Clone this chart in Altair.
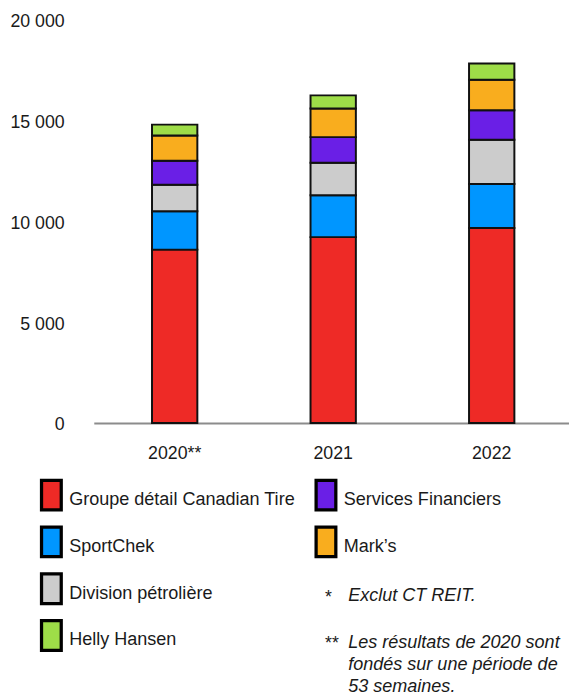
import altair as alt
import pandas as pd

years = ["2020**", "2021", "2022"]
segments = ["Groupe détail Canadian Tire", "SportChek", "Division pétrolière",
            "Services Financiers", "Mark’s", "Helly Hansen"]
groupe = [8600, 9220, 9670]
sportchek = [1900, 2080, 2180]
petroliere = [1320, 1610, 2200]
services = [1190, 1270, 1460]
marks = [1250, 1420, 1510]
helly = [540, 650, 810]
colors = ["#EE2A26", "#0096FF", "#CCCCCC", "#6A1FE6", "#F9AD1E", "#9EDD48"]
y_ticks = [0, 5000, 10000, 15000, 20000]

legend_col1 = ["Groupe détail Canadian Tire", "SportChek", "Division pétrolière", "Helly Hansen"]
legend_col2 = ["Services Financiers", "Mark’s"]
note_marks = ["*", "**"]
note_texts = ["Exclut CT REIT.", "Les résultats de 2020 sont\nfondés sur une période de\n53 semaines."]

FONT = "Liberation Sans, Arial, Helvetica, sans-serif"

series_vals = [groupe, sportchek, petroliere, services, marks, helly]
rows = []
for si, (name, vals) in enumerate(zip(segments, series_vals)):
    for y, v in zip(years, vals):
        rows.append({"year": y, "series": name, "value": v, "idx": si})
df = pd.DataFrame(rows)

leg_rows = []
for r, n in enumerate(legend_col1):
    leg_rows.append({"series": n, "col": 0, "row": r})
for r, n in enumerate(legend_col2):
    leg_rows.append({"series": n, "col": 1, "row": r})
leg = pd.DataFrame(leg_rows)

notes = pd.DataFrame({
    "mark": note_marks,
    "text": note_texts,
    "col": [1, 1],
    "row": [len(legend_col2) + i for i in range(len(note_marks))],
})

color_scale = alt.Scale(domain=segments, range=colors)
lx = alt.Scale(domain=[0, 1], range=[-43, 235.5])
ly = alt.Scale(domain=[0, 3], range=[482.2, 624.5])

bars = alt.Chart(df).mark_bar(stroke="#111111", strokeWidth=2).encode(
    x=alt.X("year:N", sort=years,
            scale=alt.Scale(paddingInner=0.714, paddingOuter=0.356, align=0.516),
            axis=alt.Axis(title=None, labelAngle=0, labelFontSize=18, labelFont=FONT,
                          labelColor="#1a1a1a", domainColor="#8c8c8c", domainWidth=2,
                          ticks=False, tickSize=0, labelPadding=31, labelBaseline="middle")),
    y=alt.Y("value:Q", stack="zero",
            scale=alt.Scale(domain=[0, 20000], nice=False),
            axis=alt.Axis(title=None, values=y_ticks, grid=False, domain=False, ticks=False,
                          tickSize=0, labelPadding=30, labelFontSize=18, labelFont=FONT,
                          labelColor="#1a1a1a", labelOffset=2,
                          labelExpr="replace(format(datum.value, ',d'), ',', ' ')")),
    color=alt.Color("series:N", scale=color_scale, legend=None),
    order=alt.Order("idx:Q"),
)

swatch_path = "M-0.6667,-1L0.6667,-1L0.6667,1L-0.6667,1Z"
swatches = alt.Chart(leg).mark_point(shape=swatch_path, size=900, filled=True, opacity=1,
                                     stroke="#000000", strokeWidth=3.3).encode(
    x=alt.X("col:Q", scale=lx, axis=None),
    y=alt.Y("row:Q", scale=ly, axis=None),
    color=alt.Color("series:N", scale=color_scale, legend=None),
)

leg_text = alt.Chart(leg).mark_text(align="left", baseline="middle", dx=18, dy=5,
                                    fontSize=18.3, font=FONT, color="#1a1a1a").encode(
    x=alt.X("col:Q", scale=lx, axis=None),
    y=alt.Y("row:Q", scale=ly, axis=None),
    text="series:N",
)

note_mark = alt.Chart(notes).mark_text(align="left", baseline="top", dx=-1, dy=0,
                                       fontSize=18, font=FONT, color="#1a1a1a").encode(
    x=alt.X("col:Q", scale=lx, axis=None),
    y=alt.Y("row:Q", scale=ly, axis=None),
    text="mark:N",
)

note_text = alt.Chart(notes).mark_text(align="left", baseline="top", dx=22.5, dy=-1.4,
                                       fontSize=18.3, font=FONT, fontStyle="italic",
                                       lineBreak="\n", lineHeight=22.5,
                                       color="#1a1a1a").encode(
    x=alt.X("col:Q", scale=lx, axis=None),
    y=alt.Y("row:Q", scale=ly, axis=None),
    text="text:N",
)

chart = alt.layer(bars, swatches, leg_text, note_mark, note_text).resolve_scale(
    x="independent", y="independent"
).properties(
    width=482, height=409,
    padding={"left": 87, "top": 7, "right": 0, "bottom": 276},
    autosize=alt.AutoSizeParams(type="none"),
    background="white",
).configure_view(stroke=None)

chart.save("out.html", embed_options={"renderer": "svg", "actions": False})
